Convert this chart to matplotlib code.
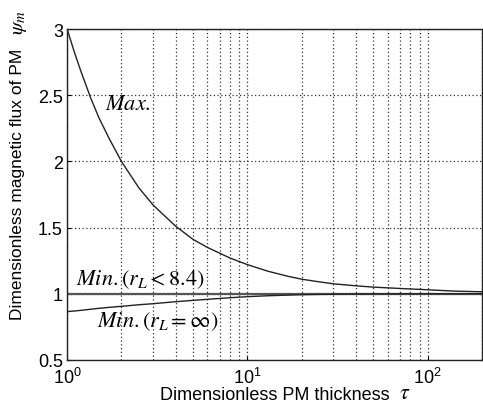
import numpy as np
import matplotlib
matplotlib.use("Agg")
import matplotlib.pyplot as plt

plt.rcParams["font.family"] = ["Liberation Sans", "DejaVu Sans"]
plt.rcParams["mathtext.fontset"] = "stix"

# values
tau = [1, 1.1, 1.2, 1.35, 1.5, 1.7, 2, 2.5, 3, 4, 5, 6, 8, 10, 13, 17, 20, 25, 30, 40, 50, 70, 100, 140, 200]
psi_max = [3.0, 2.82, 2.67, 2.48, 2.33, 2.18, 2.0, 1.8, 1.67, 1.51, 1.41, 1.35, 1.27, 1.22, 1.17,
           1.13, 1.11, 1.09, 1.075, 1.06, 1.05, 1.04, 1.03, 1.02, 1.015]
psi_min_inf = [0.865, 0.87, 0.875, 0.883, 0.89, 0.897, 0.905, 0.917, 0.925, 0.94, 0.95, 0.958, 0.97,
               0.978, 0.985, 0.99, 0.993, 0.995, 0.996, 0.998, 0.999, 1.0, 1.0, 1.0, 1.0]
psi_min_84 = [1.0] * len(tau)

fig = plt.figure(figsize=(4.83, 4.06), dpi=100)
ax = fig.add_axes([0.139, 0.111, 0.859, 0.815])

ax.plot(tau, psi_min_84, color="#555555", lw=1.6)
ax.plot(tau, psi_max, color="#222222", lw=1.0)
ax.plot(tau, psi_min_inf, color="#222222", lw=1.0)

ax.set_xscale("log")
ax.set_xlim(1, 200)
ax.set_ylim(0.5, 3)
ax.set_yticks([0.5, 1, 1.5, 2, 2.5, 3])
ax.set_yticklabels(["0.5", "1", "1.5", "2", "2.5", "3"])
ax.grid(True, which="both", axis="x", color="#333333", ls=(0, (1, 2)), lw=0.9)
ax.grid(True, which="major", axis="y", color="#333333", ls=(0, (1, 2)), lw=0.9)
ax.tick_params(which="both", direction="in", labelsize=13, length=3)
ax.tick_params(axis="x", pad=5)
ax.tick_params(axis="y", pad=3)
ax.tick_params(which="minor", length=0)
for s in ax.spines.values():
    s.set_color("#222222")
    s.set_linewidth(1.0)

ax.text(1.63, 2.44, "$Max.$", fontsize=16, va="center", ha="left")
ax.text(1.12, 1.115, r"$Min.\left(r_L<8.4\right)$", fontsize=16, va="center", ha="left")
ax.text(1.47, 0.795, r"$Min.\left(r_L=\infty\right)$", fontsize=16, va="center", ha="left")

fig.text(0.331, 0.027, "Dimensionless PM thickness", fontsize=13, ha="left", va="center")
fig.text(0.826, 0.03, r"$\tau$", fontsize=16, ha="left", va="center")
fig.text(0.036, 0.547, "Dimensionless magnetic flux of PM", fontsize=12.5, rotation=90,
         ha="center", va="center")
fig.text(0.04, 0.945, r"$\psi_m$", fontsize=15, rotation=90, ha="center", va="center")

fig.savefig("out.png", dpi=100)
